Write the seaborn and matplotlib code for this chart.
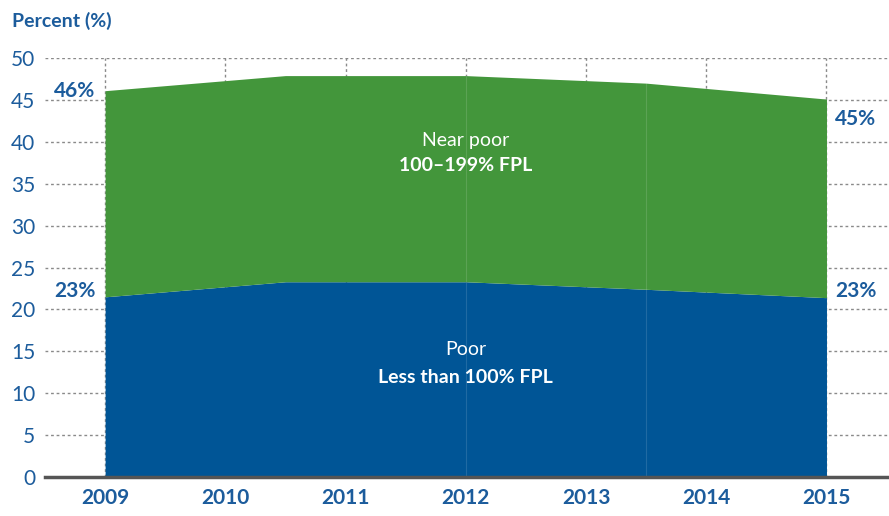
import matplotlib
matplotlib.use('Agg')
import matplotlib.pyplot as plt
import seaborn as sns

# data
years = [2009, 2010.5, 2012, 2013.5, 2015]
poor = [21.5, 23.3, 23.3, 22.4, 21.4]
near_poor = [24.6, 24.6, 24.6, 24.6, 23.7]
tick_years = [2009, 2010, 2011, 2012, 2013, 2014, 2015]
y_ticks = [0, 5, 10, 15, 20, 25, 30, 35, 40, 45, 50]

green = '#43963b'
blue = '#005596'
txt_blue = '#1c5c9c'
grid_col = '#8a8a8a'

sns.set_theme(style='white')
plt.rcParams['font.family'] = ['Lato', 'DejaVu Sans']

fig = plt.figure(figsize=(8.89, 5.16), dpi=100)
ax = fig.add_axes([45/889, 39/516, 1 - 45/889, (477-58)/516])

total = [p + n for p, n in zip(poor, near_poor)]

# grid lines behind the areas
for y in y_ticks[1:]:
    ax.axhline(y, color=grid_col, lw=1, ls=(0, (2, 2)), zorder=0)
for x in tick_years:
    ax.axvline(x, ymin=0, ymax=1, color=grid_col, lw=1, ls=(0, (2, 2)), zorder=0)

ax.fill_between(years, 0, poor, color=blue, lw=0, zorder=2)
ax.fill_between(years, poor, total, color=green, lw=0, zorder=2)
# faint seams visible in the original artwork
for x in [2012, 2013.5]:
    ax.plot([x, x], [0, total[years.index(x)]], color='white', alpha=0.13, lw=0.8, zorder=3)

ax.set_xlim(2008.5, 2015.52)
ax.set_ylim(0, 50)
ax.set_xticks(tick_years)
ax.set_xticklabels([str(y) for y in tick_years], fontsize=15, fontweight='bold', color=txt_blue)
ax.set_yticks(y_ticks)
ax.set_yticklabels([str(y) for y in y_ticks], fontsize=15, fontweight='normal', color=txt_blue)
ax.tick_params(axis='both', length=0)
ax.tick_params(axis='y', pad=7)
ax.tick_params(axis='x', pad=8)

sns.despine(ax=ax, left=True, right=True, top=True)
ax.spines['bottom'].set_color('#555555')
ax.spines['bottom'].set_linewidth(2.5)
ax.spines['bottom'].set_zorder(5)
ax.grid(False)

# end labels
ax.text(2008.92, 46.1, '46%', ha='right', va='center', fontsize=15, fontweight='bold', color=txt_blue)
ax.text(2008.92, 22.2, '23%', ha='right', va='center', fontsize=15, fontweight='bold', color=txt_blue)
ax.text(2015.07, 42.7, '45%', ha='left', va='center', fontsize=15, fontweight='bold', color=txt_blue)
ax.text(2015.07, 22.2, '23%', ha='left', va='center', fontsize=15, fontweight='bold', color=txt_blue)

# series labels
ax.text(2012, 40.2, 'Near poor', ha='center', va='center', fontsize=14, color='white')
ax.text(2012, 37.2, '100\u2013199% FPL', ha='center', va='center', fontsize=14, fontweight='bold', color='white')
ax.text(2012, 15.2, 'Poor', ha='center', va='center', fontsize=14, color='white')
ax.text(2012, 11.9, 'Less than 100% FPL', ha='center', va='center', fontsize=14, fontweight='bold', color='white')

fig.text(12/889, 1 - 27/516, 'Percent (%)', ha='left', va='baseline', fontsize=14, fontweight='bold', color=txt_blue)

fig.savefig('out.png', dpi=100)
